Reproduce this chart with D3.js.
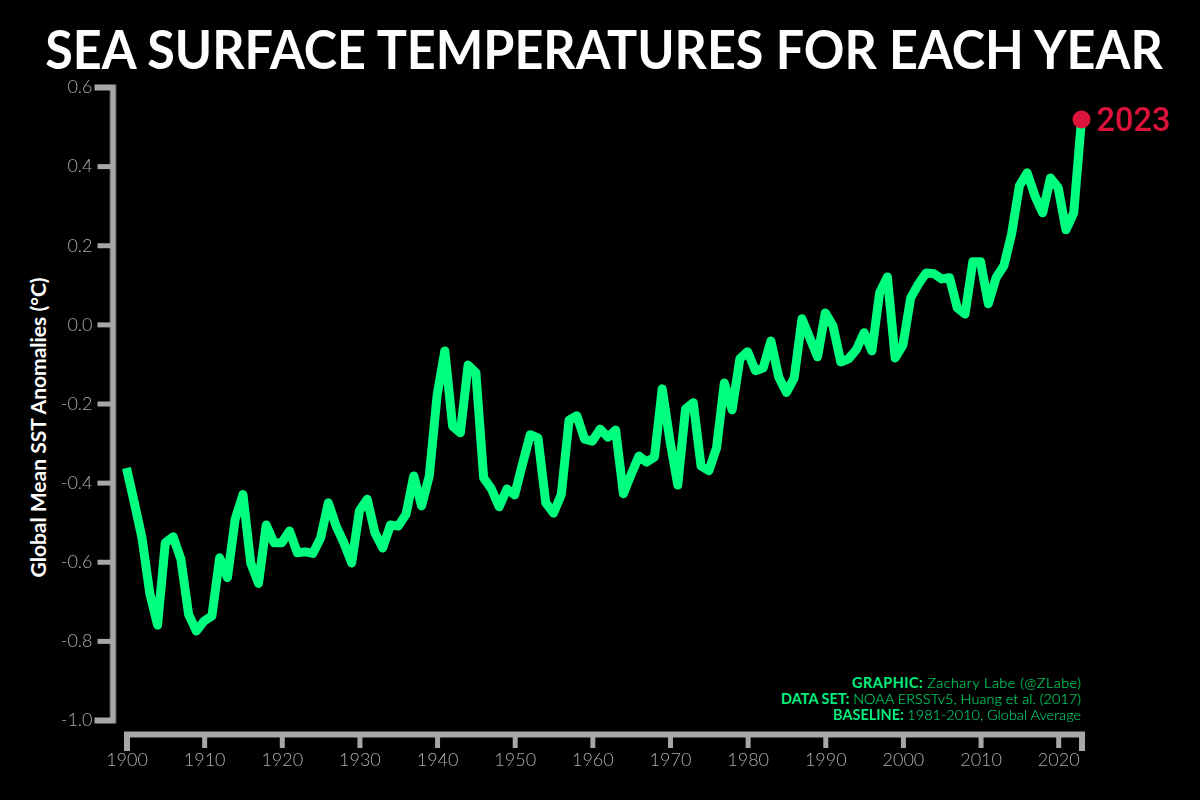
<!DOCTYPE html>
<html><head><meta charset="utf-8">
<script src="https://cdnjs.cloudflare.com/ajax/libs/d3/7.8.5/d3.min.js"></script>
<style>
html,body{margin:0;padding:0;background:#000}
svg{display:block}
.axis path,.axis line{stroke:#a8a8a8;fill:none}
.axis text{fill:#b0b0b0;font-family:Lato,sans-serif;font-weight:300;font-size:18px}
.txt{opacity:.995}
</style></head><body><svg id="c" width="1200" height="800"></svg>
<script>
const startYear = 1900;
const sstAnomalies = [
-0.363,-0.45,-0.54,-0.68,-0.76,-0.552,-0.537,-0.593,-0.733,-0.775,
-0.75,-0.737,-0.59,-0.64,-0.492,-0.43,-0.603,-0.655,-0.507,-0.552,
-0.552,-0.522,-0.577,-0.575,-0.579,-0.54,-0.451,-0.51,-0.552,-0.603,
-0.471,-0.442,-0.527,-0.565,-0.507,-0.51,-0.48,-0.383,-0.459,-0.383,
-0.18,-0.067,-0.257,-0.274,-0.103,-0.122,-0.388,-0.416,-0.461,-0.416,
-0.431,-0.353,-0.279,-0.287,-0.451,-0.477,-0.43,-0.242,-0.231,-0.29,
-0.295,-0.265,-0.285,-0.267,-0.428,-0.379,-0.333,-0.348,-0.335,-0.163,
-0.295,-0.406,-0.214,-0.198,-0.358,-0.37,-0.312,-0.148,-0.216,-0.087,
-0.069,-0.117,-0.11,-0.042,-0.133,-0.172,-0.135,0.014,-0.034,-0.082,
0.029,-0.004,-0.095,-0.087,-0.064,-0.021,-0.067,0.08,0.12,-0.085,
-0.052,0.067,0.102,0.13,0.128,0.115,0.118,0.042,0.026,0.158,
0.158,0.052,0.118,0.148,0.229,0.35,0.383,0.325,0.282,0.37,
0.345,0.239,0.282,0.518];
const xTicks = [1900,1910,1920,1930,1940,1950,1960,1970,1980,1990,2000,2010,2020];
const yTicks = [-1.0,-0.8,-0.6,-0.4,-0.2,0.0,0.2,0.4,0.6];
const titleText = "SEA SURFACE TEMPERATURES FOR EACH YEAR";
const yLabel = "Global Mean SST Anomalies (\u00B0C)";
const highlightLabel = "2023";
const credits = [["GRAPHIC:","Zachary Labe (@ZLabe)"],["DATA SET:","NOAA ERSSTv5, Huang et al. (2017)"],["BASELINE:","1981-2010, Global Average"]];
const creditLengths = [229,300,248];

const lineColor="#00FF7F", dotColor="#DC143C";
const svg=d3.select("#c");
svg.append("rect").attr("width",1200).attr("height",800).attr("fill","#000");
const x=d3.scaleLinear().domain([1900,2023]).range([126.5,1081.5]);
const y=d3.scaleLinear().domain([-1,0.6]).range([720,87]);
const data=sstAnomalies.map((v,i)=>({year:startYear+i,v}));

const gy=svg.append("g").attr("class","axis txt").attr("transform","translate(112.5,0)")
 .call(d3.axisLeft(y).tickValues(yTicks).tickSizeOuter(0).tickSize(15).tickPadding(5).tickFormat(d=>d.toFixed(1)));
gy.select(".domain").attr("stroke-width",6).attr("stroke-linecap","square");
gy.selectAll(".tick line").attr("stroke-width",5);
const gx=svg.append("g").attr("class","axis txt").attr("transform","translate(0,734)")
 .call(d3.axisBottom(x).tickValues(xTicks).tickSizeOuter(0).tickSize(14).tickPadding(5).tickFormat(d3.format("d")));
gx.select(".domain").attr("stroke-width",6).attr("stroke-linecap","square");
gx.selectAll(".tick line").attr("stroke-width",5);

svg.append("path").datum(data).attr("fill","none").attr("stroke",lineColor).attr("stroke-width",9)
 .attr("stroke-linejoin","round").attr("stroke-linecap","butt")
 .attr("d",d3.line().x(d=>x(d.year)).y(d=>y(d.v)));
const last=data[data.length-1];
svg.append("circle").attr("cx",x(last.year)).attr("cy",y(last.v)).attr("r",9).attr("fill",dotColor);
svg.append("text").attr("class","txt").attr("x",x(last.year)+15).attr("y",y(last.v)+11.5).attr("fill",dotColor)
 .attr("font-family","Roboto").attr("font-weight",500).attr("font-size",32.5).text(highlightLabel);

svg.append("text").attr("class","txt").attr("transform","translate(604,69) scale(1,1.08)").attr("text-anchor","middle").attr("fill","#fff")
 .attr("font-family","Lato").attr("font-weight",700).attr("font-size",50.3).text(titleText);

svg.append("text").attr("class","txt").attr("transform","translate(46,427.5) rotate(-90)").attr("text-anchor","middle").attr("fill","#fff")
 .attr("font-family","Lato").attr("font-weight",700).attr("font-size",21).text(yLabel);

credits.forEach((c,i)=>{
 const t=svg.append("text").attr("class","txt").attr("x",1081-creditLengths[i]).attr("y",688+i*16)
  .attr("textLength",creditLengths[i]).attr("lengthAdjust","spacing")
  .attr("fill","#00F07E").attr("font-family","Lato").attr("font-size",14.5);
 t.append("tspan").attr("font-weight",700).text(c[0]+" ");
 t.append("tspan").attr("font-weight",300).text(c[1]);
});
</script></body></html>
